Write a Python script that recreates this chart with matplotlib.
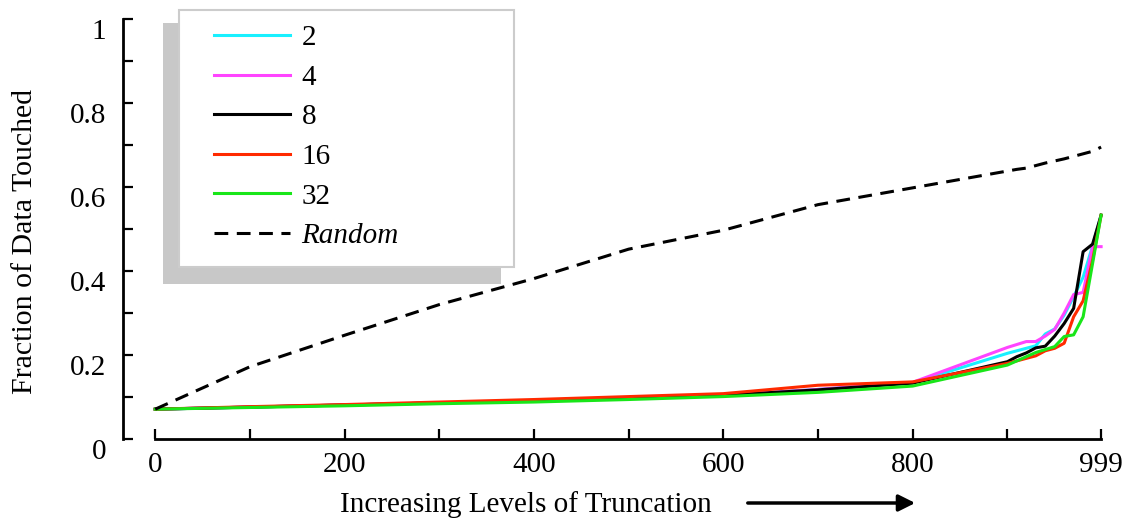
import matplotlib
matplotlib.use("Agg")
import matplotlib.pyplot as plt
import matplotlib.patches as mpatches
from matplotlib.ticker import FixedLocator

plt.rcParams['font.family'] = ['Liberation Serif', 'DejaVu Serif']

# truncation levels (x axis)
levels = [0, 100, 200, 300, 400, 500, 600, 700, 800,
          900, 910, 920, 930, 940, 950, 960, 970, 980, 990, 999]

# fraction of data touched, one list per series
frac_2 = [0.071, 0.076, 0.081, 0.086, 0.091, 0.098, 0.104, 0.118, 0.134,
          0.204, 0.210, 0.216, 0.222, 0.250, 0.262, 0.295, 0.339, 0.385, 0.460, 0.533]
frac_4 = [0.071, 0.076, 0.081, 0.086, 0.091, 0.098, 0.104, 0.118, 0.135,
          0.218, 0.225, 0.232, 0.232, 0.245, 0.261, 0.300, 0.344, 0.349, 0.458, 0.458]
frac_8 = [0.071, 0.076, 0.081, 0.086, 0.091, 0.098, 0.104, 0.117, 0.133,
          0.184, 0.196, 0.205, 0.217, 0.221, 0.245, 0.275, 0.311, 0.446, 0.464, 0.533]
frac_16 = [0.071, 0.077, 0.082, 0.088, 0.094, 0.101, 0.108, 0.128, 0.136,
           0.180, 0.186, 0.192, 0.198, 0.210, 0.216, 0.228, 0.291, 0.329, 0.426, 0.533]
frac_32 = [0.071, 0.075, 0.079, 0.084, 0.088, 0.094, 0.101, 0.111, 0.126,
           0.176, 0.186, 0.196, 0.206, 0.213, 0.220, 0.244, 0.248, 0.291, 0.418, 0.533]
frac_random = [0.071, 0.172, 0.247, 0.320, 0.382, 0.452, 0.497, 0.558, 0.598,
               0.638, 0.642, 0.645, 0.651, 0.657, 0.662, 0.667, 0.673, 0.679, 0.685, 0.695]

series = [("2", frac_2, "#19f0ff"),
          ("4", frac_4, "#ff44ff"),
          ("8", frac_8, "#000000"),
          ("16", frac_16, "#ff2a00"),
          ("32", frac_32, "#19e619")]

fig = plt.figure(figsize=(11.25, 5.21), dpi=100)
ax = fig.add_axes([123 / 1125, 82 / 521, 980 / 1125, 420 / 521])

for name, vals, col in series:
    ax.plot(levels, vals, color=col, lw=2.2, label=name)
ax.plot(levels, frac_random, color="black", lw=2.2, ls=(0, (4.5, 2.8)), label="Random")

ax.set_xlim(-34, 1001)
ax.set_ylim(0, 1)
ax.set_facecolor("none")
for s in ("top", "right"):
    ax.spines[s].set_visible(False)
ax.spines["bottom"].set_bounds(0, 999)
ax.spines["bottom"].set_linewidth(2)
ax.spines["left"].set_linewidth(2)

ax.xaxis.set_major_locator(FixedLocator([0, 200, 400, 600, 800, 999]))
ax.xaxis.set_minor_locator(FixedLocator([100, 300, 500, 700, 900]))
ax.yaxis.set_major_locator(FixedLocator([0, 0.2, 0.4, 0.6, 0.8, 1.0]))
ax.yaxis.set_minor_locator(FixedLocator([0.1, 0.3, 0.5, 0.7, 0.9]))
ax.set_yticklabels(["0", "0.2", "0.4", "0.6", "0.8", "1"])
ax.tick_params(which="both", direction="in", length=7, width=1.6, labelsize=21)
ax.tick_params(axis="y", pad=12)
ax.tick_params(axis="x", pad=9)
for lab in ax.get_yticklabels():
    lab.set_verticalalignment("top")

# legend with shadow box
ax.add_patch(mpatches.Rectangle((163 / 1125, 1 - 284 / 521), 338 / 1125, 261 / 521,
                                transform=fig.transFigure, facecolor="#c8c8c8",
                                edgecolor="none", zorder=3, clip_on=False))
ax.add_patch(mpatches.Rectangle((179 / 1125, 1 - 267 / 521), 335 / 1125, 257 / 521,
                                transform=fig.transFigure, facecolor="white",
                                edgecolor="#cccccc", lw=1.5, zorder=3.5, clip_on=False))
leg = ax.legend(loc="upper left", bbox_to_anchor=(214 / 1125, 1 - 25 / 521),
                bbox_transform=fig.transFigure, frameon=False, fontsize=21,
                handlelength=2.6, handletextpad=0.4, borderpad=0, borderaxespad=0,
                labelspacing=0.45)
leg.set_zorder(5)
leg.get_texts()[-1].set_fontstyle("italic")

fig.text(25 / 1125, 1 - 241 / 521, "Fraction of Data Touched", rotation=90,
         ha="center", va="center", fontsize=21.5)
fig.text(526 / 1125, 1 - 505 / 521, "Increasing Levels of Truncation",
         ha="center", va="center", fontsize=21)
ax.annotate("", xy=(918 / 1125, 1 - 503 / 521), xytext=(745 / 1125, 1 - 503 / 521),
            xycoords="figure fraction", textcoords="figure fraction",
            arrowprops=dict(arrowstyle="-|>", lw=2.5, color="black", mutation_scale=25))

fig.savefig("out.png", dpi=100)
